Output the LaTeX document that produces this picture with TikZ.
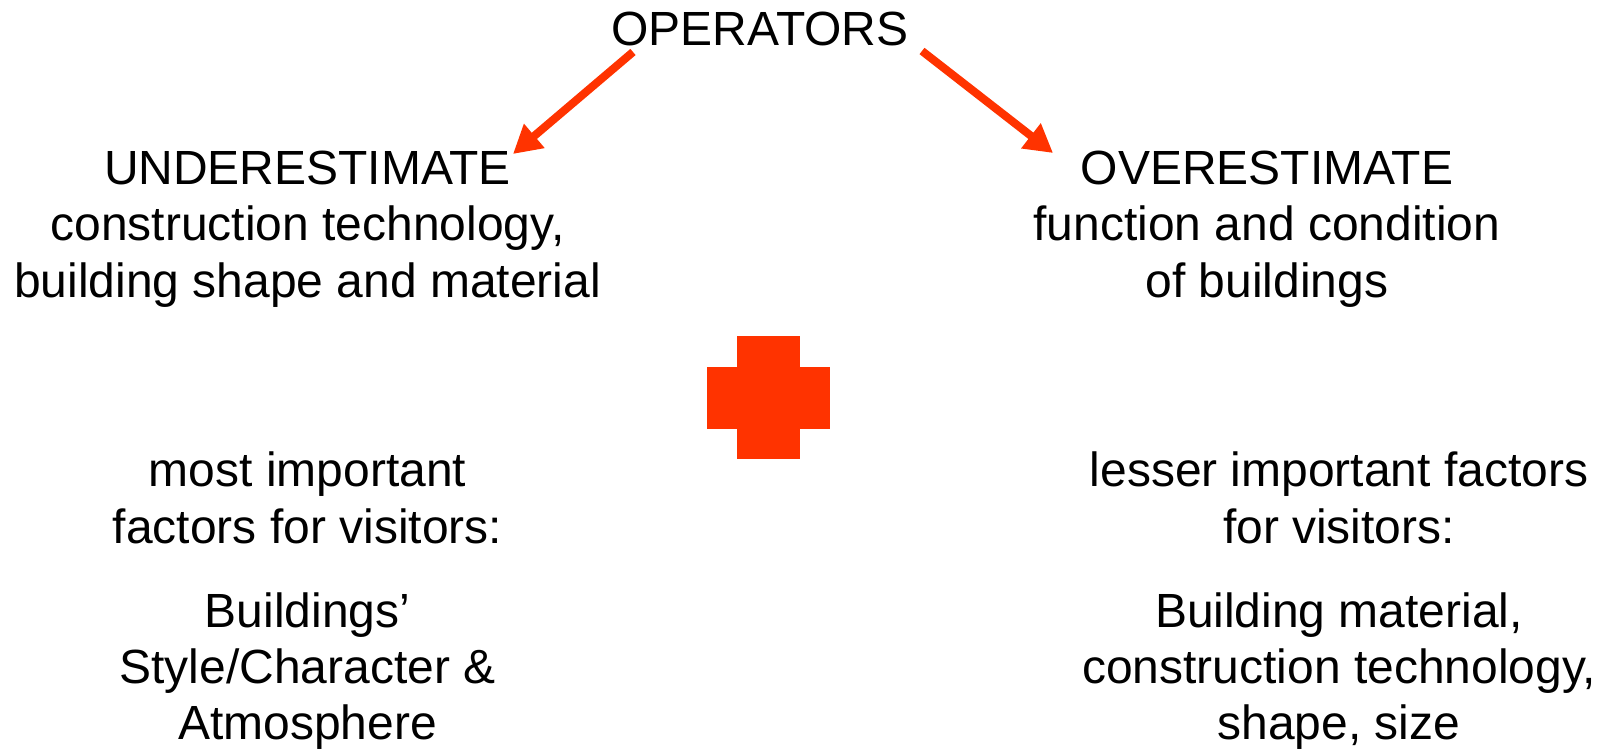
\documentclass[tikz,border=0pt]{standalone}
\usepackage{fontspec}
\setmainfont{Liberation Sans}
\usetikzlibrary{arrows.meta}
\definecolor{plusred}{RGB}{255,51,0}
\tikzset{
  txt/.style={inner sep=0pt, align=center, anchor=base, font=\fontsize{13.65}{16.05}\selectfont},
  pointer/.style={plusred, line width=2.3pt, -{Triangle[length=0.28cm,width=0.3cm]}}
}

\begin{document}
\begin{tikzpicture}
  %%%%% START %%%%%
  \useasboundingbox (0,0) rectangle (16.07,-7.51);

  \node[txt] (operators) at (7.60,-0.46) {OPERATORS};

  % base of a block = baseline of its last line
  \node[txt] (under) at (3.075,-2.973) {UNDERESTIMATE\\construction technology,\\building shape and material};
  \node[txt] (over) at (12.67,-2.973) {OVERESTIMATE\\function and condition\\of buildings};

  \coordinate (opsL) at (6.33,-0.52);
  \coordinate (opsR) at (9.22,-0.51);
  \coordinate (underTip) at (5.13,-1.54);
  \coordinate (overTip) at (10.53,-1.53);
  \draw[pointer] (opsL) -- (underTip);
  \draw[pointer] (opsR) -- (overTip);

  % the plus sign
  \fill[plusred] (7.07,-3.67) rectangle (8.30,-4.29);
  \fill[plusred] (7.37,-3.36) rectangle (8.00,-4.59);

  \node[txt] (most) at (3.075,-5.433) {most important\\factors for visitors:};
  \node[txt] (mostList) at (3.075,-7.40) {Buildings’\\Style/Character \&\\Atmosphere};

  \node[txt] (lesser) at (13.39,-5.433) {lesser important factors\\for visitors:};
  \node[txt] (lesserList) at (13.39,-7.40) {Building material,\\construction technology,\\shape, size};

  %%%%% END %%%%%
\end{tikzpicture}
\end{document}
